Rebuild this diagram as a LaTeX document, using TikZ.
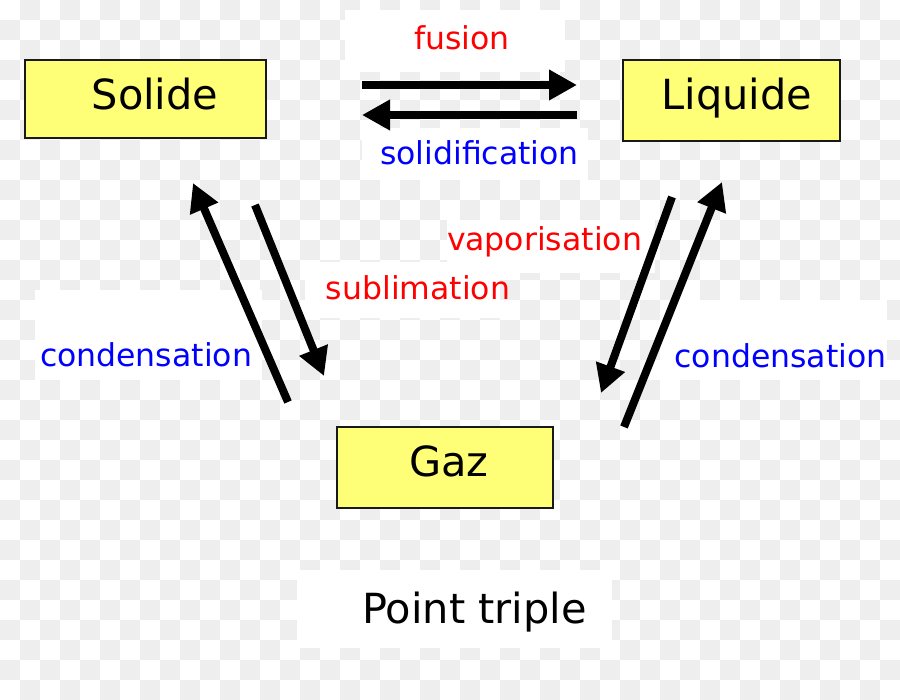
\documentclass[tikz,border=0pt]{standalone}
\usepackage{fontspec}
\setmainfont{DejaVu Sans}
\usetikzlibrary{arrows.meta}
\definecolor{damier}{HTML}{EEEEEE}
\definecolor{jaune}{HTML}{FFFF77}
\definecolor{rouge}{HTML}{FF0000}
\definecolor{bleu}{HTML}{0000FF}

\begin{document}
\begin{tikzpicture}[x=1pt, y=-1pt,
  etat/.style={rectangle, draw=black!90, line width=1.8pt, fill=jaune, inner sep=0pt},
  nom/.style={anchor=base, inner sep=0pt, font=\fontsize{41.5}{48}\selectfont},
  proc/.style={anchor=base, inner sep=0pt, font=\fontsize{31.5}{36}\selectfont},
  fond/.style={fill=white},
  fleche/.style={-{Triangle[length=28pt, width=29pt]}, line width=8pt}
]
  \useasboundingbox (0,0) rectangle (900,700);
  \fill[white] (0,0) rectangle (900,700);
  % damier de fond
  \foreach \i in {0,...,44}
    \foreach \j in {0,...,34}{
      \pgfmathtruncatemacro\k{mod(\i+\j,2)}
      \ifnum\k=1 \fill[damier] (20*\i,20*\j) rectangle ++(20,20); \fi
    }

  % fonds blancs des textes
  \fill[fond] (345,10)  rectangle (565,72);
  \fill[fond] (362,128) rectangle (588,180);
  \fill[fond] (447,220) rectangle (655,273);
  \fill[fond] (305,262) rectangle (500,318);
  \fill[fond] (35,290)  rectangle (262,380);
  \fill[fond] (660,300) rectangle (887,380);
  \fill[fond] (297,570) rectangle (612,648);

  % les trois etats
  \node[etat, minimum width=241pt, minimum height=78pt] (solide)  at (145.5,99)  {};
  \node[etat, minimum width=217pt, minimum height=81pt] (liquide) at (731.5,100.5) {};
  \node[etat, minimum width=216pt, minimum height=81pt] (gaz)     at (445,467.5) {};
  \node[nom] (tsolide)  at (155,110)   {Solide};
  \node[nom] (tliquide) at (737,110)   {Liquide};
  \node[nom] (tgaz)     at (449,477)   {Gaz};
  \node[nom] (triple)   at (474.5,623) {Point triple};

  % changements d'etat
  \node[proc, text=rouge] (fusion)  at (462,50)    {fusion};
  \node[proc, text=bleu]  (solidif) at (479.5,165) {solidification};
  \node[proc, text=rouge] (vapo)    at (544.5,251) {vaporisation};
  \node[proc, text=rouge] (subli)   at (418,300)   {sublimation};
  \node[proc, text=bleu]  (condg)   at (146,367)   {condensation};
  \node[proc, text=bleu]  (condd)   at (780.5,368) {condensation};

  \coordinate (f1)  at (362,85);  \coordinate (f2)  at (577,85);
  \coordinate (s1)  at (577,115); \coordinate (s2)  at (362,115);
  \coordinate (cg1) at (288,402); \coordinate (cg2) at (193,183);
  \coordinate (sb1) at (255,205); \coordinate (sb2) at (324,376);
  \coordinate (vp1) at (672,197); \coordinate (vp2) at (601,393);
  \coordinate (cd1) at (624,427); \coordinate (cd2) at (722,182);

  \draw[fleche] (f1)  -- (f2);
  \draw[fleche] (s1)  -- (s2);
  \draw[fleche] (cg1) -- (cg2);
  \draw[fleche] (sb1) -- (sb2);
  \draw[fleche] (vp1) -- (vp2);
  \draw[fleche] (cd1) -- (cd2);
\end{tikzpicture}
\end{document}
